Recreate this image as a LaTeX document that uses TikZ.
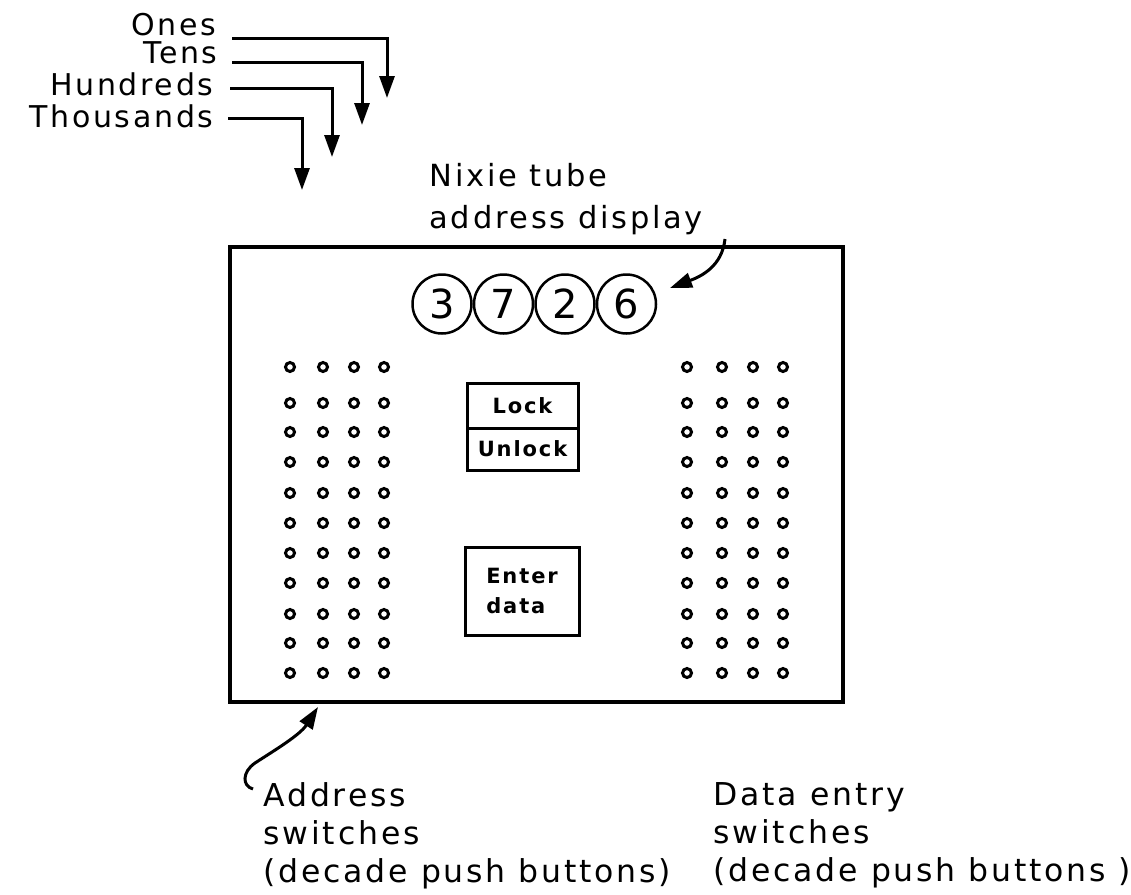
\documentclass[tikz,border=0pt]{standalone}
\usepackage{fontspec}
\setmainfont{DejaVu Sans}[LetterSpace=9]
\usetikzlibrary{arrows.meta,positioning}

\begin{document}
\begin{tikzpicture}[x=1pt,y=-1pt,line width=3pt,
    >={Triangle[length=22pt,width=15pt]},
    lbl/.style={inner sep=0pt,font=\fontsize{31.5}{38}\selectfont},
    digit/.style={inner sep=0pt,anchor=base east,font=\fontsize{30}{30}\selectfont},
    tube/.style={circle,draw,line width=2.5pt,minimum size=59pt,inner sep=0pt,
      font=\fontsize{40}{40}\selectfont},
    btn/.style={draw,line width=3pt,minimum width=111pt,inner sep=0pt,outer sep=0pt,
      align=left,font=\bfseries\fontsize{21}{30}\selectfont},
    key/.style={line width=3pt}]
  \useasboundingbox (0,0) rectangle (1131,894);

  % digit labels and their leads
  \node[digit] (ones) at (218,35) {Ones};
  \node[digit] (tens) at (219,63) {Tens};
  \node[digit] (hund) at (215,95) {Hundreds};
  \node[digit] (thou) at (215,127) {Thousands};
  \coordinate (t_1) at (387,98);
  \coordinate (t_10) at (362,125);
  \coordinate (t_100) at (332,157);
  \coordinate (t_1000) at (302,190);
  \draw[->] ([shift={(14pt,-3pt)}]ones.base east) -| (t_1);
  \draw[->] ([shift={(13pt,1pt)}]tens.base east) -| (t_10);
  \draw[->] ([shift={(15pt,7pt)}]hund.base east) -| (t_100);
  \draw[->] ([shift={(13pt,9pt)}]thou.base east) -| (t_1000);

  % front panel
  \node[draw,line width=3.3pt,minimum width=613pt,minimum height=455pt,inner sep=0pt] (panel) at (536.5,474.5) {};

  % nixie tubes
  \node[tube] (d_3) at (442,304) {3};
  \node[tube,right=0pt of d_3] (d_7) {7};
  \node[tube,right=0pt of d_7] (d_2) {2};
  \node[tube,right=0pt of d_2] (d_6) {6};
  \node[lbl,font=\fontsize{30.5}{42}\selectfont,align=left,anchor=north west] (nixie) at (428,162)
    {Nixie tube\\address display};
  \coordinate (n_from) at (725,239);
  \coordinate (n_tip) at (670,288);
  \draw[->] (n_from) .. controls (722,266) and (702,276) .. (n_tip);

  % push buttons
  \foreach \y in {367,403,432,462,493,523,553,583,614,643,673}
    \foreach \x in {290,323,354,384,687,722,753,783}
      \draw[key] (\x,\y) circle [radius=4.5pt];

  % lock and enter keys
  \node[btn,minimum height=45pt,anchor=north west] (lock) at (467,383) {Lock};
  \node[btn,minimum height=42pt,below=0pt of lock] (unlock) {Unlock};
  \node[btn,minimum width=114pt,minimum height=88pt,anchor=north west] (enter) at (465,547) {Enter\\data};

  % switch labels
  \node[lbl,align=left,anchor=north west] (addr) at (262,781)
    {Address\\switches\\(decade push buttons)};
  \node[lbl,align=left,anchor=north west] (data) at (712,781)
    {Data entry\\switches\\(decade push buttons )};
  \coordinate (a_from) at (253,789);
  \coordinate (a_tip) at (318,707);
  \draw[->] (a_from) .. controls (242,786) and (242,772) .. (255,763)
    .. controls (275,750) and (300,735) .. (a_tip);
\end{tikzpicture}
\end{document}
